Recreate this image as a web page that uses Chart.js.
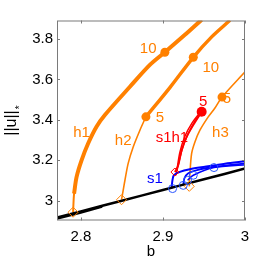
<!DOCTYPE html>
<html>
<head>
<meta charset="utf-8">
<script src="https://cdn.jsdelivr.net/npm/chart.js@4.4.1/dist/chart.umd.min.js"></script>
<style>
  html, body { margin: 0; padding: 0; background: #fff; }
  #wrap { width: 270px; height: 263px; }
</style>
</head>
<body>
<div id="wrap"><canvas id="bifChart" width="270" height="263"></canvas></div>
<script>
// tick values
var xTicks = [2.8, 2.9, 3.0];
var yTicks = [3.0, 3.2, 3.4, 3.6, 3.8];

// trivial branch (black)
var baseB = [2.771, 2.8, 2.85, 2.9, 2.95, 3.0];
var baseU = [2.917, 2.947, 3.0, 3.053, 3.106, 3.159];
var base2B = [2.771, 2.8, 2.826];
var base2U = [2.912, 2.942, 2.971];

// h1 branch
var h1LowB = [2.7906, 2.7918, 2.7948];
var h1LowU = [2.943, 3.035, 3.117];
var h1B = [2.7918, 2.7948, 2.8009, 2.8089, 2.8191, 2.8293, 2.8598, 2.8841, 2.9024, 2.9268, 2.9472];
var h1U = [3.035, 3.117, 3.200, 3.283, 3.366, 3.424, 3.564, 3.672, 3.735, 3.821, 3.896];

// h2 branch
var h2LowB = [2.8496, 2.8516, 2.8537, 2.8577, 2.8638, 2.8720, 2.8793];
var h2LowU = [3.005, 3.051, 3.100, 3.185, 3.266, 3.349, 3.415];
var h2B = [2.8793, 2.9085, 2.9370, 2.9594, 2.9817];
var h2U = [3.415, 3.560, 3.710, 3.811, 3.893];

// h3 branch
var h3B = [2.9321, 2.9329, 2.9350, 2.9390, 2.9451, 2.9552, 2.9634, 2.9720, 3.0];
var h3U = [3.071, 3.134, 3.234, 3.291, 3.349, 3.415, 3.459, 3.513, 3.638];

// s1h1 branches (red)
var r1B = [2.9146, 2.9187, 2.9228, 2.9289, 2.9370, 2.9472];
var r1U = [3.142, 3.175, 3.250, 3.316, 3.374, 3.440];
var r2B = [2.9158, 2.9232, 2.9305, 2.9390, 2.9472];
var r2U = [3.126, 3.250, 3.329, 3.394, 3.440];
var r3B = [2.9170, 2.9207, 2.9268, 2.9354, 2.9460];
var r3U = [3.150, 3.240, 3.319, 3.384, 3.440];

// s1 branches (blue)
var s1aB = [2.9106, 2.9116, 2.9134, 2.9207, 2.9329, 2.9512, 2.9756, 3.0];
var s1aU = [3.061, 3.101, 3.126, 3.143, 3.156, 3.168, 3.183, 3.195];
var s1bB = [2.9248, 2.9262, 2.9305, 2.9427, 2.9634, 3.0];
var s1bU = [3.076, 3.111, 3.135, 3.153, 3.168, 3.185];
var s1cB = [2.9301, 2.9370, 2.9622, 3.0];
var s1cU = [3.101, 3.126, 3.164, 3.178];

// markers
var orangeDotB = [2.9024, 2.8793, 2.9370, 2.9720];
var orangeDotU = [3.735, 3.415, 3.710, 3.513];
var redDotB = [2.9472];
var redDotU = [3.440];
var orangeDiaB = [2.7906, 2.8496, 2.9321];
var orangeDiaU = [2.943, 3.005, 3.071];
var redDiaB = [2.9146];
var redDiaU = [3.142];
var blueCircB = [2.9118, 2.9248, 2.9301, 2.9370, 2.9622];
var blueCircU = [3.060, 3.076, 3.101, 3.126, 3.164];

var orange = '#ff8000';
var red = '#ff0000';
var blue = '#0000ff';

function pts(bs, us) {
    return bs.map(function (b, i) { return { x: b, y: us[i] }; });
}

function curve(bs, us, color, width, order) {
    return {
        data: pts(bs, us),
        showLine: true,
        borderColor: color,
        borderWidth: width,
        pointRadius: 0,
        tension: 0.3,
        clip: 0,
        order: order
    };
}

function marks(bs, us, style, radius, fill, stroke, width) {
    return {
        data: pts(bs, us),
        showLine: false,
        pointStyle: style,
        pointRadius: radius,
        backgroundColor: fill,
        borderColor: stroke,
        borderWidth: width,
        order: 0
    };
}

// text labels next to the branches
var notes = [
    { text: 'h1', b: 2.8009, u: 3.337, color: orange },
    { text: 'h2', b: 2.8516, u: 3.294, color: orange },
    { text: 'h3', b: 2.9701, u: 3.337, color: orange },
    { text: '10', b: 2.8821, u: 3.751, color: orange },
    { text: '10', b: 2.9583, u: 3.656, color: orange },
    { text: '5', b: 2.8963, u: 3.411, color: orange },
    { text: '5', b: 2.9780, u: 3.503, color: orange },
    { text: '5', b: 2.9491, u: 3.490, color: red },
    { text: 's1h1', b: 2.9110, u: 3.310, color: red },
    { text: 's1', b: 2.8902, u: 3.109, color: blue }
];

var decorPlugin = {
    id: 'decor',
    afterDraw: function (chart) {
        var ctx = chart.ctx;
        var area = chart.chartArea;
        var xs = chart.scales.x, ys = chart.scales.y;
        ctx.save();
        // box and inner ticks
        ctx.strokeStyle = '#7a7a7a';
        ctx.lineWidth = 1;
        ctx.strokeRect(area.left + 0.5, area.top + 0.5, area.right - area.left - 1, area.bottom - area.top - 1);
        ctx.beginPath();
        xTicks.forEach(function (v) {
            var px = Math.round(xs.getPixelForValue(v)) + 0.5;
            ctx.moveTo(px, area.bottom); ctx.lineTo(px, area.bottom - 3);
            ctx.moveTo(px, area.top); ctx.lineTo(px, area.top + 3);
        });
        yTicks.forEach(function (v) {
            var py = Math.round(ys.getPixelForValue(v)) + 0.5;
            ctx.moveTo(area.left, py); ctx.lineTo(area.left + 3, py);
            ctx.moveTo(area.right, py); ctx.lineTo(area.right - 3, py);
        });
        ctx.stroke();

        // branch labels
        ctx.font = '15px "Liberation Sans", Arial, sans-serif';
        ctx.textAlign = 'center';
        ctx.textBaseline = 'middle';
        notes.forEach(function (n) {
            ctx.fillStyle = n.color;
            ctx.fillText(n.text, xs.getPixelForValue(n.b), ys.getPixelForValue(n.u));
        });

        // y axis title ||u||*
        ctx.fillStyle = '#000';
        ctx.translate(12, 123);
        ctx.rotate(-Math.PI / 2);
        ctx.font = '16px "Liberation Sans", Arial, sans-serif';
        var w = ctx.measureText('||u||').width;
        ctx.fillText('||u||', 0, 0);
        ctx.font = '10px "Liberation Sans", Arial, sans-serif';
        ctx.fillText('*', w / 2 + 3, 8);
        ctx.restore();
    }
};

var ctx = document.getElementById('bifChart').getContext('2d');
var chart = new Chart(ctx, {
    type: 'scatter',
    data: {
        datasets: [
            marks(blueCircB, blueCircU, 'circle', 4, 'rgba(0,0,0,0)', '#2a55ff', 1),
            marks(orangeDotB, orangeDotU, 'circle', 4.5, orange, orange, 0),
            marks(redDotB, redDotU, 'circle', 5, red, red, 0),
            marks(orangeDiaB, orangeDiaU, 'rectRot', 5, 'rgba(0,0,0,0)', orange, 1),
            marks(redDiaB, redDiaU, 'rectRot', 4, 'rgba(0,0,0,0)', red, 1),
            curve(baseB, baseU, '#000', 2.5, 1),
            curve(base2B, base2U, '#000', 2.5, 1),
            curve(s1aB, s1aU, blue, 2, 2),
            curve(s1bB, s1bU, blue, 1.8, 2),
            curve(s1cB, s1cU, blue, 1.5, 2),
            curve(r1B, r1U, red, 1.8, 2),
            curve(r2B, r2U, red, 1.5, 2),
            curve(r3B, r3U, red, 1.5, 2),
            curve(h1LowB, h1LowU, orange, 2, 3),
            curve(h1B, h1U, orange, 4, 3),
            curve(h2LowB, h2LowU, orange, 1.6, 3),
            curve(h2B, h2U, orange, 3.5, 3),
            curve(h3B, h3U, orange, 1.6, 3)
        ]
    },
    options: {
        responsive: false,
        animation: false,
        devicePixelRatio: 1,
        layout: { padding: { left: 0, right: 25, top: 20.5, bottom: 0 } },
        plugins: {
            legend: { display: false },
            tooltip: { enabled: false }
        },
        scales: {
            x: {
                type: 'linear',
                min: 2.771,
                max: 3.0,
                afterBuildTicks: function (scale) {
                    scale.ticks = xTicks.map(function (v) { return { value: v }; });
                },
                afterFit: function (scale) { scale.height = 42.5; },
                grid: { display: false, drawTicks: false },
                border: { display: false },
                ticks: {
                    padding: 7,
                    color: '#000',
                    font: { family: '"Liberation Sans", Arial, sans-serif', size: 15 },
                    callback: function (v) { return v === 3 ? '3' : v.toFixed(1); }
                },
                title: {
                    display: true,
                    text: 'b',
                    color: '#000',
                    font: { family: '"Liberation Sans", Arial, sans-serif', size: 15 },
                    padding: { top: 0, bottom: 2 }
                }
            },
            y: {
                type: 'linear',
                min: 2.902,
                max: 3.892,
                afterBuildTicks: function (scale) {
                    scale.ticks = yTicks.map(function (v) { return { value: v }; });
                },
                afterFit: function (scale) { scale.width = 57; },
                grid: { display: false, drawTicks: false },
                border: { display: false },
                ticks: {
                    padding: 4,
                    color: '#000',
                    font: { family: '"Liberation Sans", Arial, sans-serif', size: 15 },
                    callback: function (v) { return v === 3 ? '3' : v.toFixed(1); }
                }
            }
        }
    },
    plugins: [decorPlugin]
});
</script>
</body>
</html>
